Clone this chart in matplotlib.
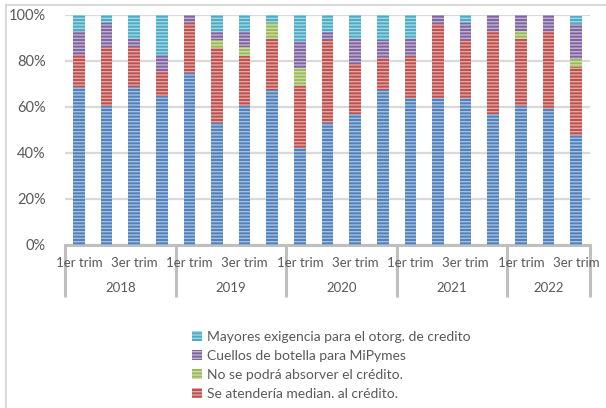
import matplotlib
matplotlib.use('Agg')
import matplotlib.pyplot as plt
import numpy as np
from matplotlib.patches import Patch, Rectangle
from matplotlib.colors import to_rgb

plt.rcParams.update({
    'font.family': ['Lato', 'DejaVu Sans'],
    'font.size': 9.5,
    'hatch.linewidth': 1.0,
})

# --- data (share of responses, %) ---
years = ['2018', '2019', '2020', '2021', '2022']
quarters_per_year = [4, 4, 4, 4, 3]
quarter_labels = ['1er trim', '', '3er trim', '']

# stacking order bottom -> top: blue, red, green, purple, cyan
blue   = [68.5, 60.5, 68.5, 65.0, 75.0, 53.0, 60.5, 67.5, 42.0, 53.0, 57.0, 67.5,
          64.0, 64.0, 64.0, 57.0, 60.5, 59.0, 48.0]
red    = [14.0, 25.5, 17.5, 10.5, 21.5, 32.5, 21.5, 22.0, 27.0, 36.0, 21.5, 14.0,
          18.0, 32.0, 25.0, 36.0, 29.0, 34.0, 29.5]
green  = [0.0, 0.0, 0.0, 0.0, 0.0, 3.5, 4.0, 7.0, 8.0, 0.0, 0.0, 0.0,
          0.0, 0.0, 0.0, 0.0, 3.5, 0.0, 3.5]
purple = [10.5, 10.5, 3.5, 7.0, 3.5, 3.5, 7.0, 0.0, 11.5, 3.5, 11.0, 7.5,
          7.5, 4.0, 7.5, 7.0, 7.0, 7.0, 15.0]
cyan   = [7.0, 3.5, 10.5, 17.5, 0.0, 7.5, 7.0, 3.5, 11.5, 7.5, 10.5, 11.0,
          10.5, 0.0, 3.5, 0.0, 0.0, 0.0, 3.5]

legend_labels = ['Mayores exigencia para el otorg. de credito',
                 'Cuellos de botella para MiPymes',
                 'No se podrá absorver el crédito.',
                 'Se atendería median. al crédito.']

COLORS = {
    'blue':   '#4F81BD',
    'red':    '#C0504D',
    'green':  '#9BBB59',
    'purple': '#8064A2',
    'cyan':   '#4BACC6',
}
TEXT = '#595959'
GRID = '#D9D9D9'
AXIS = '#BFBFBF'


def tint(c, f=0.5):
    r, g, b = to_rgb(c)
    return (r + (1 - r) * f, g + (1 - g) * f, b + (1 - b) * f)


stack = [('blue', blue), ('red', red), ('green', green),
         ('purple', purple), ('cyan', cyan)]

fig = plt.figure(figsize=(6.06, 4.08), dpi=100)
ax = fig.add_axes([65 / 606, 1 - 245 / 408, 525 / 606, 230 / 408])

x = np.arange(len(blue))
bottom = np.zeros(len(blue))
for key, vals in stack:
    v = np.array(vals)
    ax.bar(x, v, 0.42, bottom=bottom, color=COLORS[key],
           edgecolor=tint(COLORS[key], 0.5), linewidth=0, hatch='-----',
           zorder=3)
    bottom += v

ax.set_xlim(-0.5, len(blue) - 0.5)
ax.set_ylim(0, 100)
ax.set_yticks(np.arange(0, 101, 20))
ax.set_yticklabels([f'{t}%' for t in range(0, 101, 20)], color=TEXT,
                   fontsize=10.5)
ax.tick_params(axis='y', length=0, pad=14)
ax.set_xticks([])
ax.grid(axis='y', color=GRID, linewidth=1.6, zorder=0)
for s in ['top', 'right', 'left']:
    ax.spines[s].set_visible(False)
ax.spines['bottom'].set_color(AXIS)
ax.spines['bottom'].set_linewidth(2.2)

# two-level category axis
trans = ax.get_xaxis_transform()
pos = -0.5
for yr, n in zip(years, quarters_per_year):
    for q in range(n):
        lab = quarter_labels[q]
        if lab:
            ax.text(pos + 0.5 + q, -0.077, lab, transform=trans, ha='center',
                    va='center', color=TEXT, fontsize=9.5)
    ax.text(pos + n / 2, -0.188, yr, transform=trans, ha='center',
            va='center', color=TEXT, fontsize=9.5)
    ax.plot([pos, pos], [0, -0.226], transform=trans, color=AXIS,
            linewidth=2.2, clip_on=False, solid_capstyle='butt')
    pos += n
ax.plot([pos, pos], [0, -0.226], transform=trans, color=AXIS,
        linewidth=2.2, clip_on=False, solid_capstyle='butt')

# chart border (cut by the image edge)
fig.patches.append(Rectangle((6 / 606, -0.1), 1.2, 1 - 5 / 408 + 0.1,
                             transform=fig.transFigure, fill=False,
                             edgecolor=GRID, linewidth=1.5))

# legend (bottom entry cut off in the original)
handles = [Patch(facecolor=COLORS[k], edgecolor=tint(COLORS[k], 0.5),
                 linewidth=0, hatch='-----')
           for k in ['cyan', 'purple', 'green', 'red']]
fig.legend(handles, legend_labels, loc='upper left',
           bbox_to_anchor=(192 / 606, 1 - 331 / 408), frameon=False,
           fontsize=10, labelcolor=TEXT, handlelength=0.75, handleheight=0.75,
           handletextpad=0.3, labelspacing=0.5, borderpad=0, borderaxespad=0)

fig.savefig('out.png', dpi=100)
